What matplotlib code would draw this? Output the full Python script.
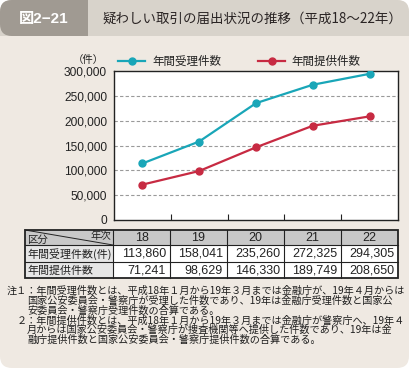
import matplotlib
matplotlib.use("Agg")
import matplotlib.pyplot as plt
from matplotlib.patches import FancyBboxPatch, Rectangle
from matplotlib.lines import Line2D
from matplotlib.ticker import FuncFormatter

# ---------------- data ----------------
years = ["18", "19", "20", "21", "22"]
received = [113860, 158041, 235260, 272325, 294305]
provided = [71241, 98629, 146330, 189749, 208650]
series_names = ["年間受理件数", "年間提供件数"]
row_labels = ["年間受理件数(件)", "年間提供件数"]
yticks = [0, 50000, 100000, 150000, 200000, 250000, 300000]
fig_label = "図2−21"
title = "疑わしい取引の届出状況の推移（平成18〜22年）"
unit = "（件）"
notes = [
    (7, "注１：年間受理件数とは、平成18年１月から19年３月までは金融庁が、19年４月からは"),
    (27, "国家公安委員会・警察庁が受理した件数であり、19年は金融庁受理件数と国家公"),
    (27, "安委員会・警察庁受理件数の合算である。"),
    (17, "２：年間提供件数とは、平成18年１月から19年３月までは金融庁が警察庁へ、19年４"),
    (27, "月からは国家公安委員会・警察庁が捜査機関等へ提供した件数であり、19年は金"),
    (27, "融庁提供件数と国家公安委員会・警察庁提供件数の合算である。"),
]

CYAN = "#19a6b8"
RED = "#c72a42"
BEIGE = "#efe9e2"
BAR = "#d8d3cb"
DARK = "#a09a92"
TXT = "#222222"
JP = ["Noto Sans CJK JP", "DejaVu Sans"]
NUM = ["Liberation Sans", "Noto Sans CJK JP"]

W, H = 409, 369
fig = plt.figure(figsize=(W / 100, H / 100), dpi=100)
fig.patch.set_facecolor("white")

bg = fig.add_axes([0, 0, 1, 1])
bg.set_xlim(0, W)
bg.set_ylim(H, 0)
bg.axis("off")

# body
body = FancyBboxPatch((0, 0), W, H - 1, boxstyle="round,pad=0,rounding_size=12",
                      fc=BEIGE, ec="none", zorder=0)
bg.add_patch(body)
# title bar (rounded top)
tb = FancyBboxPatch((0, 0), W, 36, boxstyle="round,pad=0,rounding_size=12",
                    fc=BAR, ec="none", zorder=1)
bg.add_patch(tb)
bg.add_patch(Rectangle((0, 18), W, 18, fc=BAR, ec="none", zorder=1))
dk = Rectangle((0, 0), 88, 36, fc=DARK, ec="none", zorder=2)
bg.add_patch(dk)
dk.set_clip_path(tb)
bg.text(44, 18.5, fig_label, color="white", fontsize=11, fontweight="bold",
        family=NUM, ha="center", va="center", zorder=3)
bg.text(102, 18.5, title, color="#2a2424", fontsize=9.7, family=JP,
        ha="left", va="center", zorder=3)

# unit + legend
bg.text(88, 60, unit, fontsize=7.5, family=JP, color=TXT, ha="center", va="center")
for (x0, x1, xt), col, name in [((118, 145, 152), CYAN, series_names[0]),
                                ((258, 285, 291), RED, series_names[1])]:
    bg.add_line(Line2D([x0, x1], [61, 61], color=col, lw=1.6))
    bg.add_line(Line2D([(x0 + x1) / 2], [61], color=col, marker="o", ms=5, mec=col))
    bg.text(xt, 61, name, fontsize=8.3, family=JP, color=TXT, ha="left", va="center")

# ---------------- chart ----------------
L, R, T, B = 114, 398, 71, 220
ax = fig.add_axes([L / W, 1 - B / H, (R - L) / W, (B - T) / H])
ax.set_facecolor("white")
x = list(range(len(years)))
ax.plot(x, received, color=CYAN, lw=1.6, marker="o", ms=5, mec=CYAN, zorder=3)
ax.plot(x, provided, color=RED, lw=1.6, marker="o", ms=5, mec=RED, zorder=3)
ax.set_xlim(-0.5, len(years) - 0.5)
ax.set_ylim(0, 300000)
ax.set_yticks(yticks)
ax.yaxis.set_major_formatter(FuncFormatter(lambda v, p: f"{int(v):,}"))
for lab in ax.get_yticklabels():
    lab.set_family(NUM)
ax.tick_params(axis="y", length=0, pad=5, labelsize=8.6, labelcolor=TXT)
ax.set_xticks([i + 0.5 for i in range(len(years) - 1)])
ax.set_xticklabels([])
ax.tick_params(axis="x", direction="in", length=4, width=0.8, color="#222")
for yv in yticks[1:-1]:
    ax.axhline(yv, color="#9a9a9a", lw=0.8, dashes=(3, 2), zorder=1)
for s in ax.spines.values():
    s.set_color("#222")
    s.set_linewidth(1.0)

# ---------------- table ----------------
cols = [25, 113, 170, 227, 284, 341, 398]
rows = [230, 245, 262, 278]
HEAD = "#c8c8c8"
FIRST = "#e6e6e6"
bg.add_patch(Rectangle((cols[0], rows[0]), cols[-1] - cols[0], rows[1] - rows[0],
                       fc=HEAD, ec="none", zorder=1))
bg.add_patch(Rectangle((cols[0], rows[1]), cols[1] - cols[0], rows[3] - rows[1],
                       fc=FIRST, ec="none", zorder=1))
bg.add_patch(Rectangle((cols[1], rows[1]), cols[-1] - cols[1], rows[3] - rows[1],
                       fc="white", ec="none", zorder=1))
for yy in rows[1:-1]:
    bg.add_line(Line2D([cols[0], cols[-1]], [yy, yy], color="#222", lw=0.8, zorder=3))
for xx in cols[1:-1]:
    bg.add_line(Line2D([xx, xx], [rows[0], rows[-1]], color="#222", lw=0.8, zorder=3))
bg.add_patch(Rectangle((cols[0], rows[0]), cols[-1] - cols[0], rows[-1] - rows[0],
                       fc="none", ec="#222", lw=1.3, zorder=4))
bg.add_line(Line2D([cols[0], cols[1]], [rows[0], rows[1]], color="#222", lw=0.7, zorder=3))
bg.text(cols[0] + 2, rows[1] - 0.5, "区分", fontsize=7.5, family=JP, color=TXT,
        ha="left", va="bottom", zorder=5)
bg.text(cols[1] - 2, rows[0] + 0.5, "年次", fontsize=7.5, family=JP, color=TXT,
        ha="right", va="top", zorder=5)
for i, yr in enumerate(years):
    cx = (cols[i + 1] + cols[i + 2]) / 2
    bg.text(cx, (rows[0] + rows[1]) / 2 + 0.5, yr, fontsize=9, family=NUM,
            color=TXT, ha="center", va="center", zorder=5)
for r, (lab, vals) in enumerate(zip(row_labels, [received, provided])):
    cy = (rows[r + 1] + rows[r + 2]) / 2 + 0.5
    bg.text(cols[0] + 2, cy, lab, fontsize=7.9, family=JP, color=TXT,
            ha="left", va="center", zorder=5)
    for i, v in enumerate(vals):
        bg.text(cols[i + 2] - 4, cy, f"{v:,}", fontsize=9, family=NUM,
                color=TXT, ha="right", va="center", zorder=5)

# ---------------- notes ----------------
for k, (xs, line) in enumerate(notes):
    bg.text(xs, 291 + 9.8 * k, line, fontsize=7.3, family=JP, color="#1e1e1e",
            ha="left", va="center", zorder=5)

fig.savefig("out.png", dpi=100, facecolor=fig.get_facecolor())
